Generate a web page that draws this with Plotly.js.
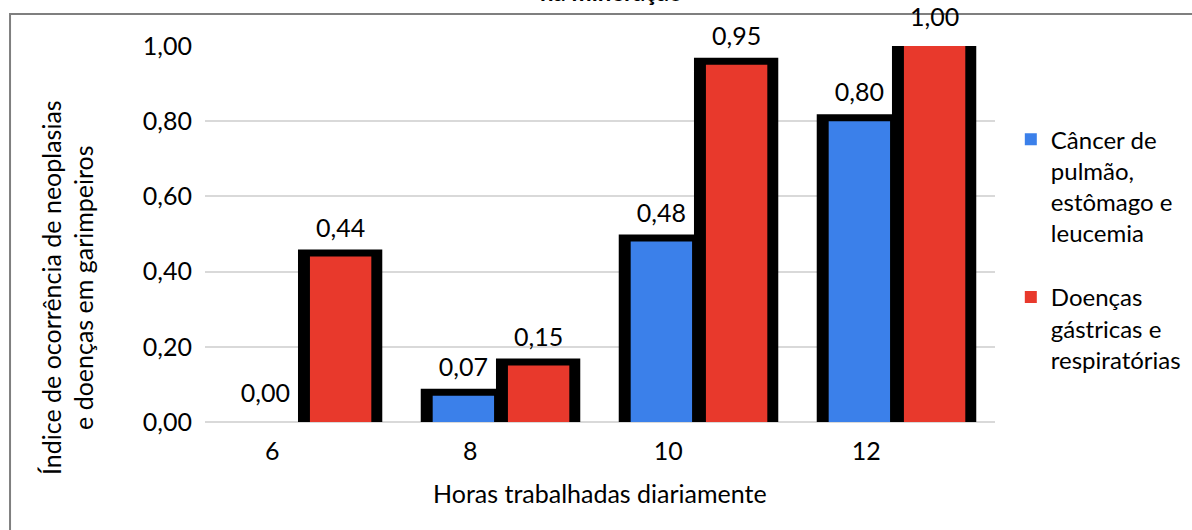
<!DOCTYPE html>
<html>
<head>
<meta charset="utf-8">
<script src="https://cdn.plot.ly/plotly-3.0.1.min.js"></script>
<style>html,body{margin:0;padding:0;background:#fff;}#chart{width:1192px;height:530px;}</style>
</head>
<body>
<div id="chart"></div>
<script>
const categories = ['6', '8', '10', '12'];
const cancerValues = [0.00, 0.07, 0.48, 0.80];
const doencasValues = [0.44, 0.15, 0.95, 1.00];
const yTicks = [0, 0.2, 0.4, 0.6, 0.8, 1.0];
const seriesNames = ['Câncer de<br>pulmão,<br>estômago e<br>leucemia', 'Doenças<br>gástricas e<br>respiratórias'];
const titleText = 'na mineração';
const yTitle = 'Índice de ocorrência de neoplasias<br>e doenças em garimpeiros';
const xTitle = 'Horas trabalhadas diariamente';

const FONT = 'Lato, "Open Sans", sans-serif';
const FS = 25;
const BLUE = '#3b80ea';
const RED = '#e8392c';
const xIdx = categories.map((_, i) => i);

// bar geometry (style constants, in category units)
const blueFill = {offset: -0.19, width: 0.31};
const redFill = {offset: 0.19, width: 0.31};
const blueEdge = {offset: -0.215, width: 0.32};
const redEdge = {offset: 0.165, width: 0.355};
const EDGE = 14;

const textFont = {family: FONT, size: FS, color: '#000'};

const traces = [
  // black "3D edge" backing bars
  {type: 'bar', x: xIdx, y: cancerValues, width: blueEdge.width, offset: blueEdge.offset,
   marker: {color: '#000', line: {color: '#000', width: cancerValues.map(v => v > 0 ? EDGE : 0)}},
   showlegend: false, hoverinfo: 'none'},
  {type: 'bar', x: xIdx, y: doencasValues, width: redEdge.width, offset: redEdge.offset,
   marker: {color: '#000', line: {color: '#000', width: EDGE}},
   showlegend: false, hoverinfo: 'none'},
  // coloured bars
  {type: 'bar', x: xIdx, y: cancerValues, width: blueFill.width, offset: blueFill.offset,
   marker: {color: BLUE, line: {width: 0}}, showlegend: false, hoverinfo: 'none'},
  {type: 'bar', x: xIdx, y: doencasValues, width: redFill.width, offset: redFill.offset,
   marker: {color: RED, line: {width: 0}}, showlegend: false, hoverinfo: 'none'},
  // value labels
  {type: 'scatter', mode: 'markers+text', x: xIdx.map(i => i + blueFill.offset + blueFill.width / 2), y: cancerValues,
   marker: {size: 20, color: 'rgba(0,0,0,0)'},
   texttemplate: '%{y:.2f}', textposition: 'top center', textfont: textFont, cliponaxis: false,
   showlegend: false, hoverinfo: 'none'},
  {type: 'scatter', mode: 'markers+text', x: xIdx.map(i => i + redFill.offset + redFill.width / 2), y: doencasValues,
   marker: {size: 20, color: 'rgba(0,0,0,0)'},
   texttemplate: '%{y:.2f}', textposition: 'top center', textfont: textFont, cliponaxis: false,
   showlegend: false, hoverinfo: 'none'},
  // legend entries
  {type: 'bar', x: [null], y: [null], name: seriesNames[0], marker: {color: BLUE}, legendgroup: 'a'},
  {type: 'bar', x: [null], y: [null], name: seriesNames[1], marker: {color: RED}, legendgroup: 'b'}
];

const layout = {
  width: 1192, height: 530,
  margin: {l: 205, r: 197, t: 46, b: 108},
  paper_bgcolor: '#fff', plot_bgcolor: '#fff',
  separators: ',.',
  barmode: 'overlay',
  font: {family: FONT, size: FS, color: '#000'},
  xaxis: {
    range: [-0.34, 3.65], tickvals: xIdx, ticktext: categories,
    showgrid: false, zeroline: false, showline: false, ticks: '',
    tickfont: textFont, ticklabelstandoff: 12
  },
  yaxis: {
    range: [0, 1], tickvals: yTicks, tickformat: '.2f',
    showgrid: true, gridcolor: '#d9d9d9', gridwidth: 2,
    zeroline: true, zerolinecolor: '#d9d9d9', zerolinewidth: 2,
    showline: false, ticks: '',
    tickfont: textFont, ticklabelstandoff: 12
  },
  legend: {
    xref: 'container', yref: 'container',
    x: 0.848, y: 0.779, xanchor: 'left', yanchor: 'top',
    font: {family: FONT, size: 24, color: '#000'}, valign: 'top', tracegroupgap: 30, bgcolor: 'rgba(0,0,0,0)'
  },
  annotations: [
    {text: xTitle, xref: 'paper', yref: 'paper', x: 0.5, y: -0.19, xanchor: 'center', yanchor: 'middle',
     showarrow: false, font: textFont},
    {text: yTitle, xref: 'paper', yref: 'paper', x: -0.1747, y: 0.359, xanchor: 'center', yanchor: 'middle',
     textangle: -90, showarrow: false, font: textFont},
    {text: '<b>' + titleText + '</b>', xref: 'paper', yref: 'paper', x: 0.515, y: 1.1, xanchor: 'center', yanchor: 'bottom',
     showarrow: false, font: {family: FONT, size: 24, color: '#000'}}
  ],
  shapes: [
    {type: 'rect', xref: 'paper', yref: 'paper', x0: -0.2468, x1: 1.3, y0: -0.35, y1: 1.085,
     line: {color: '#7f7f7f', width: 2}, fillcolor: 'rgba(0,0,0,0)', layer: 'below'}
  ]
};

Plotly.newPlot('chart', traces, layout, {displayModeBar: false, staticPlot: true});
</script>
</body>
</html>
